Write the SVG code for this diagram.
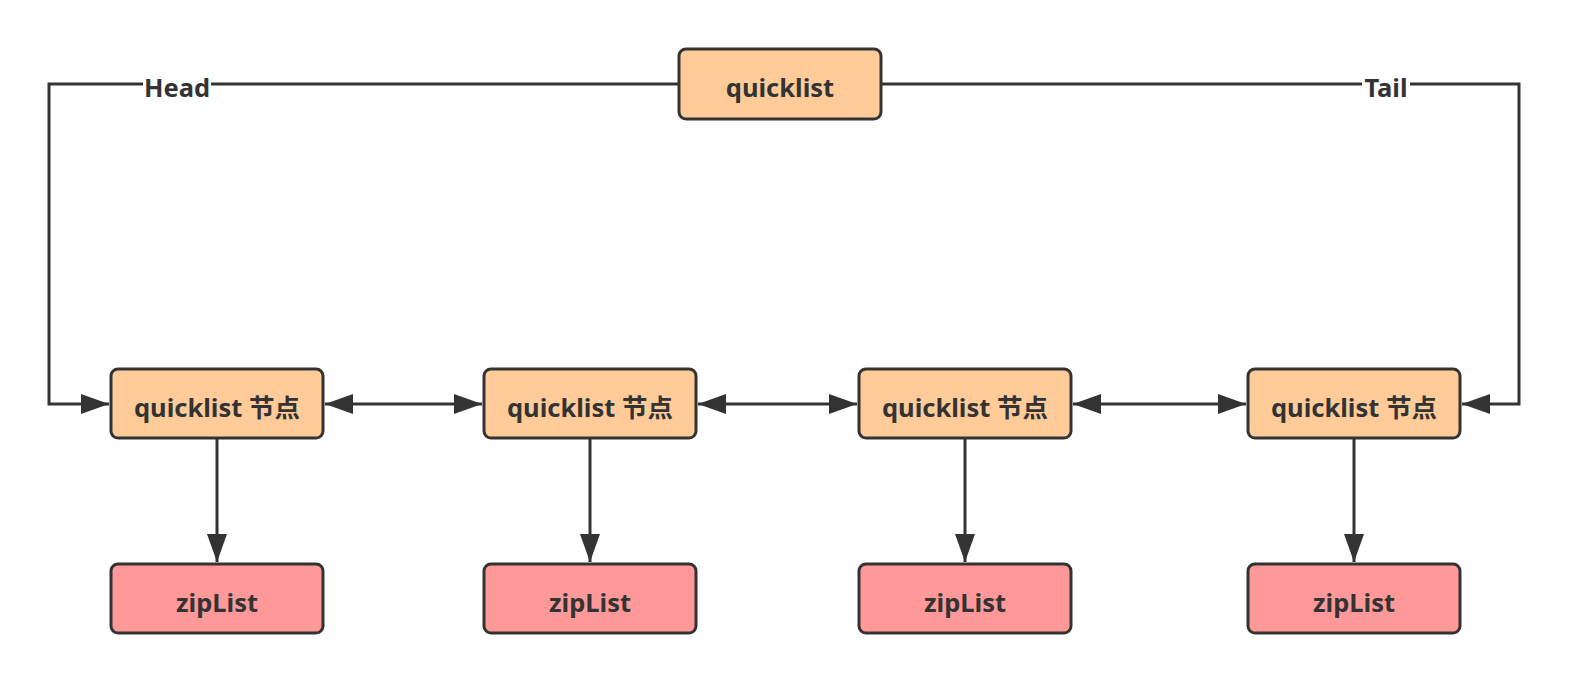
<svg xmlns="http://www.w3.org/2000/svg" width="1580" height="687" viewBox="0 0 1580 687">
<style>
.box{stroke:#333;stroke-width:3}
.q{fill:#FFCC99}
.z{fill:#FF9999}
.t{font-family:"Noto Sans","Noto Sans CJK SC",sans-serif;font-weight:bold;font-size:25.5px;fill:#333;text-anchor:middle;dominant-baseline:central}
.c{fill:none;stroke:#333;stroke-width:3}
</style>
<defs>
<marker id="ah" viewBox="0 0 28 20" refX="28" refY="10" markerWidth="28" markerHeight="20" markerUnits="userSpaceOnUse" orient="auto-start-reverse">
<path d="M0,0 L28,10 L0,20 z" fill="#333"/>
</marker>
</defs>
<rect width="1580" height="687" fill="#fff"/>
<g id="connectors">
<path class="c" d="M679,84 H49 V404 H109" marker-end="url(#ah)"/>
<path class="c" d="M881,84 H1519 V404 H1462" marker-end="url(#ah)"/>
<path class="c" d="M325,404 H482" marker-start="url(#ah)" marker-end="url(#ah)"/>
<path class="c" d="M698,404 H857" marker-start="url(#ah)" marker-end="url(#ah)"/>
<path class="c" d="M1073,404 H1246" marker-start="url(#ah)" marker-end="url(#ah)"/>
<path class="c" d="M217,438 V562" marker-end="url(#ah)"/>
<path class="c" d="M590,438 V562" marker-end="url(#ah)"/>
<path class="c" d="M965,438 V562" marker-end="url(#ah)"/>
<path class="c" d="M1354,438 V562" marker-end="url(#ah)"/>
<rect x="143" y="72" width="68" height="26" fill="#fff"/>
<text class="t" x="177" y="87">Head</text>
<rect x="1362" y="72" width="48" height="26" fill="#fff"/>
<text class="t" x="1386" y="87">Tail</text>
</g>
<g id="quicklist"><rect class="box q" x="679" y="49" width="202" height="70" rx="7"/><text class="t" x="780" y="87">quicklist</text></g>
<g id="node1"><rect class="box q" x="111" y="369" width="212" height="69" rx="7"/><text class="t" x="217" y="407">quicklist 节点</text></g>
<g id="node2"><rect class="box q" x="484" y="369" width="212" height="69" rx="7"/><text class="t" x="590" y="407">quicklist 节点</text></g>
<g id="node3"><rect class="box q" x="859" y="369" width="212" height="69" rx="7"/><text class="t" x="965" y="407">quicklist 节点</text></g>
<g id="node4"><rect class="box q" x="1248" y="369" width="212" height="69" rx="7"/><text class="t" x="1354" y="407">quicklist 节点</text></g>
<g id="zip1"><rect class="box z" x="111" y="564" width="212" height="69" rx="7"/><text class="t" x="217" y="602">zipList</text></g>
<g id="zip2"><rect class="box z" x="484" y="564" width="212" height="69" rx="7"/><text class="t" x="590" y="602">zipList</text></g>
<g id="zip3"><rect class="box z" x="859" y="564" width="212" height="69" rx="7"/><text class="t" x="965" y="602">zipList</text></g>
<g id="zip4"><rect class="box z" x="1248" y="564" width="212" height="69" rx="7"/><text class="t" x="1354" y="602">zipList</text></g>
</svg>
